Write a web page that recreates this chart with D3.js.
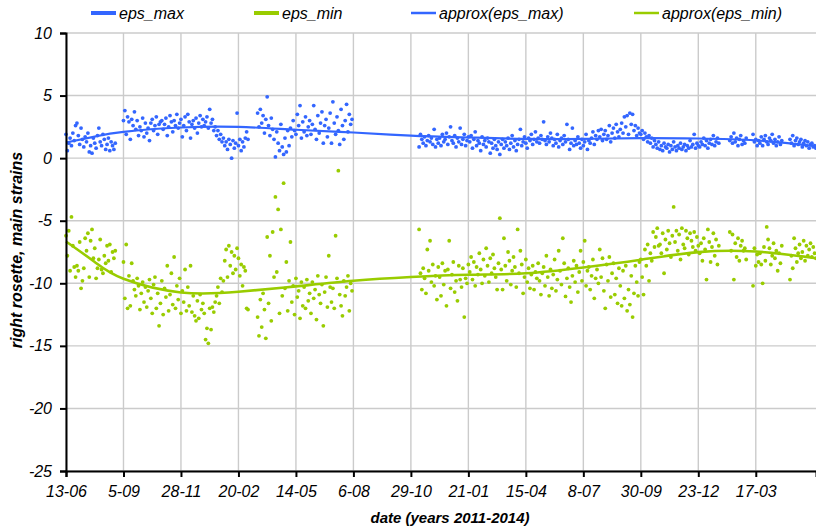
<!DOCTYPE html>
<html lang="en">
<head>
<meta charset="utf-8">
<title>right rosette, main strains</title>
<script src="https://d3js.org/d3.v7.min.js"></script>
<style type="text/css">
body { margin: 0; background: #fff; }
#vis svg { display: block; font-family: "Liberation Sans", Arial, sans-serif; }
</style>
</head>
<body>
<div id="vis"></div>
<script>

/* Data */
/* ==== */

// x axis ticks, every 84 days
var tickDates = ['2011-06-13', '2011-09-05', '2011-11-28', '2012-02-20', '2012-05-14', '2012-08-06',
	'2012-10-29', '2013-01-21', '2013-04-15', '2013-07-08', '2013-09-30', '2013-12-23', '2014-03-17'];
var yTicks = [10, 5, 0, -5, -10, -15, -20, -25];

// readings every 2 days, each segment starts at its own date (null = no reading)
var segStarts = ['2011-06-13', '2011-09-05', '2012-03-19', '2012-11-10'];

var epsMaxA = [1.9,0.6,1.2,1.6,1.0,2.0,1.4,2.6,2.8,1.8,1.1,2.4,1.5,0.9,1.7,1.3,2.0,0.5,1.0,0.4,
	1.6,1.2,0.8,1.8,2.4,1.3,1.0,1.9,1.5,0.7,1.1,1.6,0.6,1.3,1.0,0.7,1.2];
var epsMinA = [-6.2,-7.8,-5.8,-9.0,-4.7,-7.0,-8.7,-9.5,-8.6,-9.0,-6.7,-10.4,-9.8,-8.8,-6.4,-7.4,-6.0,-9.5,-6.6,-5.7,
	-8.0,-7.2,-9.6,-8.8,-8.1,-6.5,-8.9,-9.2,-7.8,-8.4,-7.0,-8.2,-6.9,-9.1,-7.5,-8.0,-7.4];

var epsMaxB = [3.0,3.8,1.9,3.3,2.9,1.5,3.1,2.6,3.7,
	2.3,3.0,1.8,2.5,2.2,3.2,1.7,2.8,2.0,2.4,1.4,
	2.8,3.1,2.2,2.6,3.3,1.9,2.7,2.9,3.0,2.3,2.7,3.2,1.8,2.5,3.4,2.9,2.1,3.0,2.6,3.5,2.4,2.8,
	3.1,1.7,2.6,3.3,2.2,3.5,2.9,1.6,2.7,3.0,2.4,3.2,2.0,2.8,3.4,2.5,3.1,2.6,
	2.9,3.3,2.4,3.9,2.8,3.1,2.2,2.5,
	1.8,2.2,1.5,1.9,1.3,1.6,
	1.0,1.3,0.7,1.5,1.1,0.0,1.4,0.8,1.2,3.6,1.0,1.5,0.6,1.3,0.9,
	1.6,2.1,1.5];
var epsMinB = [-8.3,-11.2,-6.9,-12.0,-9.4,-11.8,-8.4,-9.8,-10.5,
	-11.0,-9.6,-10.2,-12.1,-10.8,-9.9,-11.5,-10.3,-11.9,-10.6,-9.7,
	-11.2,-12.4,-10.1,-9.5,-12.0,-10.8,-13.4,-11.6,-9.8,-12.5,-10.4,-11.1,-8.6,-12.2,-10.9,-9.2,-11.7,-7.9,-12.0,-10.2,-11.3,-9.6,
	-12.4,-10.6,-11.5,-8.9,-12.2,-10.3,-11.8,-8.6,-12.3,-11.0,-12.6,-13.0,-11.4,-12.8,-10.9,-12.1,-11.6,-12.4,
	-14.5,-13.6,-14.8,-12.0,-13.7,-11.9,-12.3,-11.5,
	-11.0,-10.3,-11.6,-9.6,-10.7,-9.8,
	-8.2,-7.3,-9.5,-7.0,-8.6,-7.5,-9.2,-7.8,-8.9,-7.2,-8.0,-9.4,-8.5,-10.2,-8.7,
	-9.0,-12.0,-12.1];

var epsMaxC = [3.6,2.5,3.9,2.8,3.4,2.0,3.1,4.9,2.6,1.8,3.2,2.3,1.5,
	0.1,2.1,1.2,0.6,2.7,0.9,0.3,1.6,0.5,2.2,1.0,
	2.4,1.7,3.0,2.2,1.9,3.5,2.6,4.2,1.6,2.9,2.1,3.3,1.8,2.5,
	3.0,1.9,2.7,4.2,2.3,1.5,3.4,2.0,2.8,3.7,1.2,2.6,3.1,1.7,2.4,3.6,
	1.2,4.5,2.8,1.9,3.3,2.2,1.1,3.9,2.6,1.5,3.0,4.3,2.1,3.5,2.7,3.1];
var epsMinC = [-12.7,-14.2,-11.3,-13.5,-10.8,-12.1,-14.4,-6.3,-11.6,-7.8,-13.0,-5.9,-9.5,
	-3.1,-9.1,-4.1,-12.4,-5.7,-11.0,-2.0,-10.4,-8.3,-12.2,-9.8,
	-6.7,-11.5,-10.2,-12.5,-9.6,-11.1,-10.6,-12.8,-9.9,-11.8,-10.3,-12.0,-9.7,-11.4,
	-10.8,-12.4,-9.9,-11.2,-10.5,-12.9,-9.4,-10.9,-11.6,-10.1,-13.4,-10.7,-9.5,-11.9,-7.8,-10.3,
	-11.5,-10.4,-12.0,-6.2,-9.6,-1.0,-10.9,-11.8,-12.6,-9.8,-11.0,-10.3,-9.4,-12.2,-10.0,-10.6];

var epsMaxD = [0.9,1.9,1.5,1.2,1.7,1.0,1.4,1.8,1.3,1.6,1.1,2.3,0.9,1.5,1.2,
	1.6,1.0,1.9,1.3,1.5,2.0,1.1,1.7,2.5,1.4,1.2,1.8,0.9,1.6,1.3,2.4,1.1,1.5,1.9,1.0,1.4,1.7,
	1.3,1.8,0.8,1.5,2.1,1.0,1.4,1.2,0.6,1.7,1.1,1.4,0.9,1.6,1.3,0.4,1.2,0.8,1.5,1.0,0.7,1.3,
	0.3,1.1,1.5,0.8,1.3,1.0,1.6,0.7,1.2,1.8,0.9,1.4,0.6,1.1,1.5,2.3,1.0,1.3,1.7,1.2,0.8,1.6,1.4,1.9,1.1,1.5,2.1,1.3,1.6,
	1.2,1.8,1.5,2.9,1.4,1.1,1.7,1.3,2.0,1.6,1.0,1.5,1.2,1.9,0.9,1.4,1.6,1.1,1.8,1.3,2.7,1.5,0.7,1.2,2.4,1.0,
	1.4,1.1,1.7,1.2,0.8,1.5,1.0,1.3,1.9,0.7,1.4,1.2,1.6,2.1,1.1,1.8,1.5,2.2,
	1.7,2.3,1.4,1.9,2.2,1.5,1.8,2.6,1.3,2.0,2.4,1.6,2.7,2.1,1.7,
	2.3,2.8,2.0,3.3,2.5,3.4,1.9,3.6,2.7,3.5,2.2,2.6,1.8,2.4,2.0,
	1.9,2.2,1.5,2.0,1.7,1.3,1.8,1.2,1.6,0.9,1.4,1.1,0.8,1.3,
	0.7,1.0,0.6,1.2,0.9,0.8,1.1,0.5,1.0,0.7,1.3,0.9,0.6,1.0,0.8,1.2,0.7,0.9,1.1,0.6,1.0,0.8,1.4,0.9,1.1,1.9,0.8,1.2,1.0,
	0.9,1.3,1.1,1.6,1.0,1.4,0.8,1.2,1.5,1.1,1.8,1.0,1.3,1.6,1.2,
	null,null,null,null,null,null,null,1.4,1.7,1.2,2.0,1.3,1.6,1.0,1.5,1.8,1.1,1.4,
	1.2,1.6,null,null,null,null,1.9,1.3,1.5,1.0,1.4,
	1.2,1.7,1.0,1.5,1.8,1.3,1.1,1.6,1.4,1.9,1.2,1.5,1.0,1.3,1.7,1.1,1.4,null,null,null,null,null,
	1.5,1.2,1.8,1.0,1.4,1.6,1.1,1.3,1.5,0.9,1.2,1.4,1.0,1.3,0.8,1.1,1.2,0.9,1.0,0.8];
var epsMinD = [-5.7,-9.2,-10.5,-8.8,-9.6,-10.8,-7.3,-9.0,-6.6,-9.9,-8.5,-10.2,-9.4,-11.3,-8.7,
	-9.5,-11.0,-8.4,-10.1,-9.0,-11.8,-8.9,-6.6,-10.4,-9.3,-8.3,-10.7,-9.8,-11.4,-8.6,-9.7,-10.3,-8.8,-12.7,-9.6,-10.0,-8.5,
	-9.1,-7.9,-9.7,-8.3,-10.2,-8.7,-9.3,-7.6,-8.9,-10.0,-8.1,-9.4,-7.2,-8.6,-9.9,-8.0,-9.2,-7.7,-8.8,-9.5,-10.5,-8.4,
	-4.8,-8.9,-10.5,-6.4,-8.6,-9.8,-7.5,-8.2,-10.1,-9.0,-7.9,-8.7,-10.3,-5.7,-9.2,-7.4,-8.5,-10.8,-9.5,-8.1,-9.9,-8.8,-10.4,-9.3,-8.6,-10.5,-9.1,-9.6,-8.4,
	-9.8,-10.9,-9.2,-8.7,-10.2,-7.8,-9.5,-11.0,-8.9,-10.4,-9.3,-8.1,-10.6,-9.7,-7.4,-9.0,-10.1,-6.4,-8.4,-11.05,-9.6,-8.8,-10.3,-11.5,-9.4,-8.2,
	-9.9,-8.6,-10.7,-9.1,-7.4,-9.8,-8.3,-6.6,-10.2,-9.0,-8.7,-10.5,-9.4,-8.1,-11.2,-9.6,-8.9,-10.0,
	-7.3,-9.5,-8.0,-10.6,-12.0,-8.5,-9.8,-7.9,-11.1,-9.2,-8.4,-10.9,-9.6,-11.6,-8.8,
	-10.2,-11.8,-9.0,-11.2,-8.6,-12.2,-10.5,-11.7,-9.4,-12.7,-10.8,-8.6,-9.9,-11.0,-8.3,
	-8.1,-9.5,-10.9,-7.3,-8.6,-6.9,-9.8,-7.6,-8.2,-5.9,-7.1,-6.3,-5.6,-7.0,
	-6.9,-7.6,-6.0,-9.2,-6.5,-7.3,-5.8,-6.8,-7.9,-6.2,-3.9,-6.7,-5.8,-7.4,-6.1,-8.1,-5.6,-6.9,-7.2,-5.8,-6.4,-7.7,-6.0,-6.6,-7.1,-5.9,-7.4,-6.3,-7.0,
	-7.6,-6.8,-8.2,-6.4,-7.3,-9.7,-5.7,-6.7,-8.3,-7.1,-6.0,-7.8,-6.5,-8.5,-7.0,
	null,null,null,null,null,null,null,-5.9,-7.4,-6.1,-9.7,-6.8,-7.9,-6.4,-8.2,-7.0,-6.6,-7.4,
	-7.2,-8.1,null,null,null,null,-10.2,-7.2,-8.6,-7.7,-8.3,
	-7.6,-8.5,-10.0,-7.1,-8.2,-5.5,-6.5,-7.2,-8.5,-7.8,-6.8,-8.0,-7.4,-9.0,-7.6,-8.4,-7.0,null,null,null,null,null,
	-9.7,-7.8,-8.8,-6.4,-7.2,-8.3,-7.6,-6.9,-8.0,-7.5,-6.6,-8.2,-7.0,-7.8,-7.3,-6.8,-7.9,-7.1,-7.6,-8.0];

// fitted trend curves, read at these dates
var trendDates = ['2011-06-13', '2011-07-25', '2011-09-05', '2011-11-28', '2012-02-20', '2012-05-14', '2012-08-06',
	'2012-10-29', '2013-01-21', '2013-04-15', '2013-07-08', '2013-09-30', '2013-12-23', '2014-03-17', '2014-06-13'];
var approxMax = [1.25, 1.72, 2.1, 2.45, 2.5, 2.27, 2.05, 1.8, 1.65, 1.54, 1.54, 1.6, 1.57, 1.42, 0.95];
var approxMin = [-6.66, -8.3, -9.64, -10.73, -10.68, -10.25, -9.8, -9.5, -9.32, -9.2, -8.74, -8.12, -7.51, -7.46, -8.0];

var legendLabels = ['eps_max', 'eps_min', 'approx(eps_max)', 'approx(eps_min)'];


/* Globals and SVG */
/* =============== */

var W = 816, H = 529;
var margin = { top: 33, right: 0, bottom: 58, left: 66 },
	width = W - margin.left - margin.right,
	height = H - margin.top - margin.bottom;

var blue = '#3366ff', green = '#99cc00';
var parse = d3.timeParse('%Y-%m-%d');

var svg = d3.select('#vis')
	.append('svg')
		.attr('width', W)
		.attr('height', H);

var g = svg.append('g')
	.attr('transform', 'translate(' + margin.left + ',' + margin.top + ')');

var x = d3.scaleTime()
	.domain([parse('2011-06-13'), parse('2014-06-13')])
	.range([0, width]);

var y = d3.scaleLinear()
	.domain([-25, 10])
	.range([height, 0]);


/* Functions */
/* ========= */

function toPoints(starts, segs) {
	var pts = [];
	segs.forEach(function(vals, s) {
		var start = parse(starts[s]);
		vals.forEach(function(v, i) {
			if (v !== null) pts.push({ date: d3.timeDay.offset(start, i * 2), value: v });
		});
	});
	return pts;
}

function drawGrid() {
	g.append('g')
		.selectAll('line.v')
		.data(tickDates.map(parse))
		.join('line')
			.attr('x1', d => x(d)).attr('x2', d => x(d))
			.attr('y1', 0).attr('y2', height)
			.attr('stroke', '#cbcbcb').attr('stroke-width', 1.4);

	g.append('g')
		.selectAll('line.h')
		.data(yTicks)
		.join('line')
			.attr('x1', 0).attr('x2', width)
			.attr('y1', d => y(d)).attr('y2', d => y(d))
			.attr('stroke', '#cbcbcb').attr('stroke-width', 1.4);
}

function drawAxes() {
	var fmt = d3.timeFormat('%-d-%m');

	var xAxis = g.append('g')
		.attr('transform', 'translate(0,' + height + ')')
		.call(d3.axisBottom(x).tickValues(tickDates.map(parse)).tickFormat(fmt).tickSizeOuter(0).tickSize(6).tickPadding(9));

	// plain hyphen for negatives, as in the original
	var yAxis = g.append('g')
		.call(d3.axisLeft(y).tickValues(yTicks).tickFormat(d => String(d)).tickSizeOuter(0).tickSize(6).tickPadding(8));

	[xAxis, yAxis].forEach(function(a) {
		a.select('.domain').attr('stroke', '#000').attr('stroke-width', 2);
		a.selectAll('.tick line').attr('stroke', '#000').attr('stroke-width', 2);
		a.selectAll('.tick text')
			.attr('fill', '#000')
			.style('font-size', '16px')
			.style('font-style', 'italic')
			.style('font-family', '"Liberation Sans", Arial, sans-serif');
	});

	svg.append('text')
		.attr('x', 450).attr('y', 523)
		.attr('text-anchor', 'middle')
		.style('font-size', '15px').style('font-weight', 'bold').style('font-style', 'italic')
		.text('date (years 2011-2014)');

	svg.append('text')
		.attr('transform', 'translate(22,250) rotate(-90)')
		.attr('text-anchor', 'middle')
		.style('font-size', '16px').style('font-weight', 'bold').style('font-style', 'italic')
		.text('right rosette, main strains');
}

function drawSeries(pts, colour) {
	g.append('g')
		.selectAll('circle')
		.data(pts)
		.join('circle')
			.attr('cx', d => x(d.date))
			.attr('cy', d => y(d.value))
			.attr('r', 1.9)
			.attr('fill', colour);
}

function drawTrend(vals, colour, w) {
	var line = d3.line()
		.x((d, i) => x(parse(trendDates[i])))
		.y(d => y(d))
		.curve(d3.curveNatural);

	g.append('path')
		.datum(vals)
		.attr('d', line)
		.attr('fill', 'none')
		.attr('stroke', colour)
		.attr('stroke-width', w);
}

function drawLegend() {
	var items = [
		{ x: 91, col: blue, w: 4 },
		{ x: 254, col: green, w: 4 },
		{ x: 411, col: blue, w: 2.5 },
		{ x: 634, col: green, w: 2.5 }
	];
	var lg = svg.append('g');
	items.forEach(function(it, i) {
		lg.append('line')
			.attr('x1', it.x).attr('x2', it.x + 25)
			.attr('y1', 13).attr('y2', 13)
			.attr('stroke', it.col).attr('stroke-width', it.w);
		lg.append('text')
			.attr('x', it.x + 28).attr('y', 19)
			.style('font-size', '16px').style('font-style', 'italic')
			.text(legendLabels[i]);
	});
}


/* Build */
/* ===== */

drawGrid();

var ptsMax = toPoints(segStarts, [epsMaxA, epsMaxB, epsMaxC, epsMaxD]);
var ptsMin = toPoints(segStarts, [epsMinA, epsMinB, epsMinC, epsMinD]);

drawSeries(ptsMax, blue);
drawSeries(ptsMin, green);
drawTrend(approxMax, blue, 2.2);
drawTrend(approxMin, green, 2.6);

drawAxes();
drawLegend();

</script>
</body>
</html>
